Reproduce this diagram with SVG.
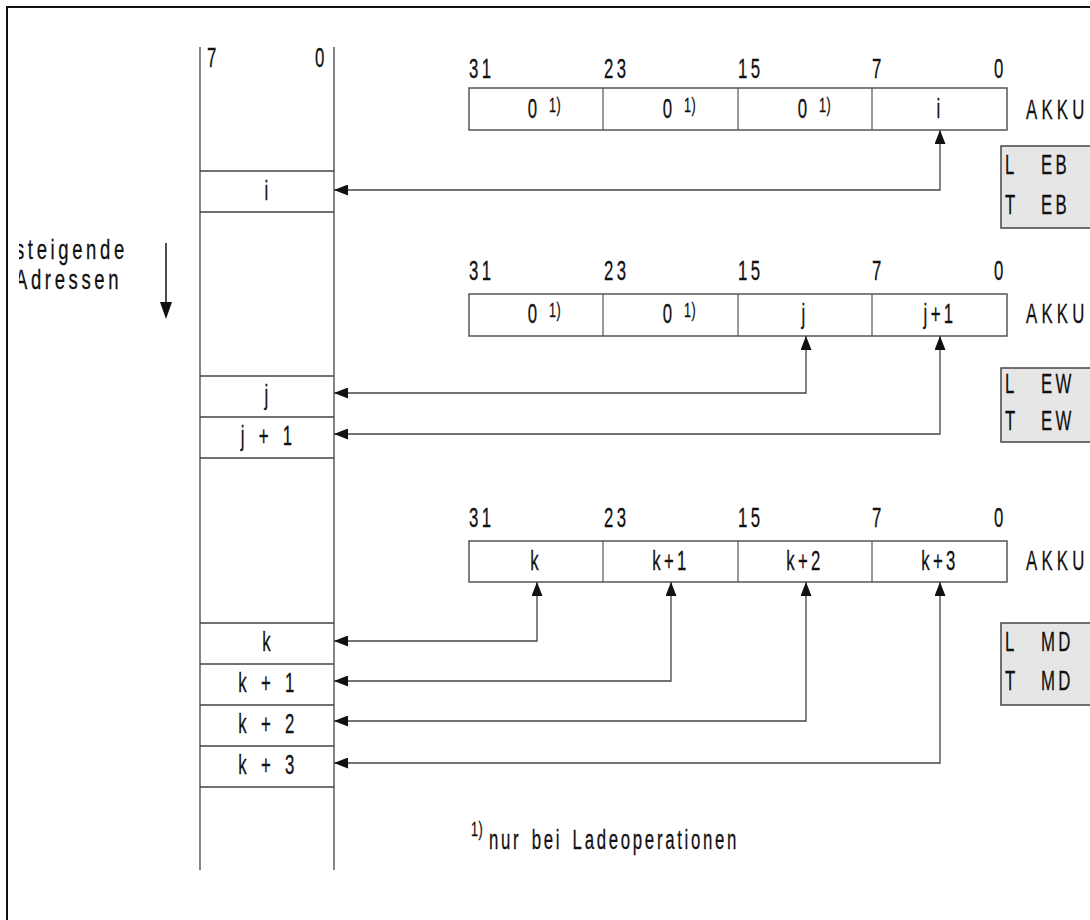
<svg xmlns="http://www.w3.org/2000/svg" width="1090" height="920" viewBox="0 0 1090 920">
<style>
text{font-family:"Liberation Sans",Arial,sans-serif;font-size:28px;fill:#111;letter-spacing:5.5px;stroke:#111;stroke-width:0.3px}
.m{text-anchor:middle}
.ws{word-spacing:5px}
.wide{letter-spacing:7px}
.fn{letter-spacing:4.5px;word-spacing:5px}
.sup{font-size:21px;letter-spacing:1px}
.reg{fill:#fff;stroke:#555;stroke-width:1.5}
.div{stroke:#555;stroke-width:1.2}
.mem{stroke:#444;stroke-width:1.3;fill:none}
.box{fill:#e6e6e6;stroke:#444;stroke-width:1.5}
.con{fill:none;stroke:#444;stroke-width:1.3;marker-start:url(#ah);marker-end:url(#ah)}
</style>
<defs>
<marker id="ah" viewBox="0 0 14 11" refX="14" refY="5.5" markerWidth="14" markerHeight="11" markerUnits="userSpaceOnUse" orient="auto-start-reverse"><path d="M0,0 L14,5.5 L0,11 z" fill="#111"/></marker>
<clipPath id="fr"><rect x="19" y="9" width="300" height="400"/></clipPath>
</defs>
<rect width="1090" height="920" fill="#fff"/>
<g id="frame"><path d="M7,920 V7 H1090" fill="none" stroke="#111" stroke-width="2"/></g>

<g id="memory">
<path class="mem" d="M200,47 V870 M334,47 V870"/>
<path class="mem" d="M200,171 H334 M200,212 H334 M200,376 H334 M200,417 H334 M200,458 H334 M200,623 H334 M200,664 H334 M200,705 H334 M200,746 H334 M200,787 H334"/>
<text transform="translate(207,67) scale(.6,1)">7</text>
<text transform="translate(315,67) scale(.6,1)">0</text>
<text class="m" transform="translate(268,200) scale(.6,1)">i</text>
<text class="m" transform="translate(268,404) scale(.6,1)">j</text>
<text class="m ws" transform="translate(268,445) scale(.6,1)">j + 1</text>
<text class="m" transform="translate(268,651) scale(.6,1)">k</text>
<text class="m ws" transform="translate(268,692) scale(.6,1)">k + 1</text>
<text class="m ws" transform="translate(268,733) scale(.6,1)">k + 2</text>
<text class="m ws" transform="translate(268,774) scale(.6,1)">k + 3</text>
</g>

<g id="direction">
<g clip-path="url(#fr)">
<text transform="translate(15,259) scale(.66,1)">steigende</text>
<text transform="translate(15,289) scale(.66,1)">Adressen</text>
</g>
<path d="M166,243 V304" stroke="#111" stroke-width="1.5"/>
<path d="M160,302 L172,302 L166,319 z" fill="#111"/>
</g>

<g id="akku1">
<text transform="translate(469,78) scale(.6,1)">31</text>
<text transform="translate(604,78) scale(.6,1)">23</text>
<text transform="translate(738,78) scale(.6,1)">15</text>
<text transform="translate(872,78) scale(.6,1)">7</text>
<text transform="translate(994,78) scale(.6,1)">0</text>
<rect class="reg" x="469" y="88" width="538" height="42"/>
<path class="div" d="M603,88 V130 M738,88 V130 M872,88 V130"/>
<text class="m" transform="translate(534,118) scale(.6,1)">0</text><text class="sup" transform="translate(549,112) scale(.6,1)">1)</text>
<text class="m" transform="translate(669,118) scale(.6,1)">0</text><text class="sup" transform="translate(684,112) scale(.6,1)">1)</text>
<text class="m" transform="translate(804,118) scale(.6,1)">0</text><text class="sup" transform="translate(819,112) scale(.6,1)">1)</text>
<text class="m" transform="translate(940,118) scale(.6,1)">i</text>
<text class="wide" transform="translate(1026,119) scale(.6,1)">AKKU</text>
</g>
<g id="ops1">
<rect class="box" x="1001" y="146" width="95" height="82"/>
<text transform="translate(1005,174) scale(.6,1)">L</text><text transform="translate(1041,174) scale(.6,1)">EB</text>
<text transform="translate(1005,214) scale(.6,1)">T</text><text transform="translate(1041,214) scale(.6,1)">EB</text>
</g>

<g id="akku2">
<text transform="translate(469,280) scale(.6,1)">31</text>
<text transform="translate(604,280) scale(.6,1)">23</text>
<text transform="translate(738,280) scale(.6,1)">15</text>
<text transform="translate(872,280) scale(.6,1)">7</text>
<text transform="translate(994,280) scale(.6,1)">0</text>
<rect class="reg" x="469" y="294" width="538" height="42"/>
<path class="div" d="M603,294 V336 M738,294 V336 M872,294 V336"/>
<text class="m" transform="translate(534,323) scale(.6,1)">0</text><text class="sup" transform="translate(549,317) scale(.6,1)">1)</text>
<text class="m" transform="translate(669,323) scale(.6,1)">0</text><text class="sup" transform="translate(684,317) scale(.6,1)">1)</text>
<text class="m" transform="translate(805,323) scale(.6,1)">j</text>
<text class="m" transform="translate(940,323) scale(.6,1)">j+1</text>
<text class="wide" transform="translate(1026,323) scale(.6,1)">AKKU</text>
</g>
<g id="ops2">
<rect class="box" x="1001" y="368" width="95" height="74"/>
<text transform="translate(1005,393) scale(.6,1)">L</text><text transform="translate(1041,393) scale(.6,1)">EW</text>
<text transform="translate(1005,430) scale(.6,1)">T</text><text transform="translate(1041,430) scale(.6,1)">EW</text>
</g>

<g id="akku3">
<text transform="translate(469,527) scale(.6,1)">31</text>
<text transform="translate(604,527) scale(.6,1)">23</text>
<text transform="translate(738,527) scale(.6,1)">15</text>
<text transform="translate(872,527) scale(.6,1)">7</text>
<text transform="translate(994,527) scale(.6,1)">0</text>
<rect class="reg" x="469" y="541" width="538" height="41"/>
<path class="div" d="M603,541 V582 M738,541 V582 M872,541 V582"/>
<text class="m" transform="translate(536,570) scale(.6,1)">k</text>
<text class="m" transform="translate(671,570) scale(.6,1)">k+1</text>
<text class="m" transform="translate(805,570) scale(.6,1)">k+2</text>
<text class="m" transform="translate(940,570) scale(.6,1)">k+3</text>
<text class="wide" transform="translate(1026,570) scale(.6,1)">AKKU</text>
</g>
<g id="ops3">
<rect class="box" x="1001" y="623" width="95" height="82"/>
<text transform="translate(1005,651) scale(.6,1)">L</text><text transform="translate(1041,651) scale(.6,1)">MD</text>
<text transform="translate(1005,690) scale(.6,1)">T</text><text transform="translate(1041,690) scale(.6,1)">MD</text>
</g>

<g id="connectors">
<path class="con" d="M940,130 V190 H334"/>
<path class="con" d="M806,336 V393 H334"/>
<path class="con" d="M940,336 V434 H334"/>
<path class="con" d="M537,582 V641 H334"/>
<path class="con" d="M671,582 V681 H334"/>
<path class="con" d="M806,582 V721 H334"/>
<path class="con" d="M940,582 V763 H334"/>
</g>

<g id="footnote">
<text class="sup" transform="translate(471,836) scale(.6,1)">1)</text>
<text class="fn" transform="translate(489,849) scale(.6,1)">nur bei Ladeoperationen</text>
</g>
</svg>
